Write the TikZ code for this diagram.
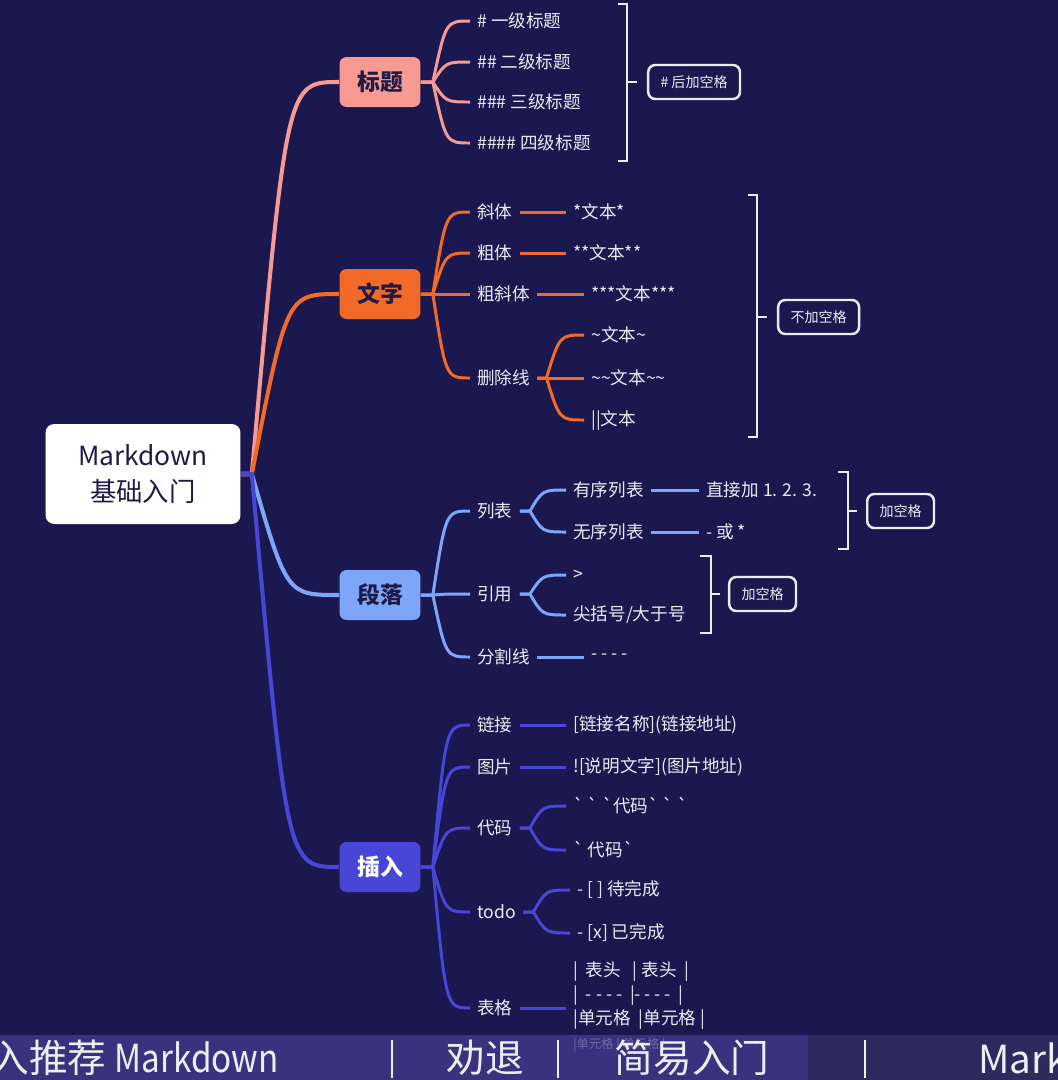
\documentclass[tikz,border=0pt]{standalone}
\usepackage{fontspec}
\setmainfont{Noto Sans CJK SC}[Ligatures=TeXOff]
\usepackage{tikz}
\usetikzlibrary{positioning, calc}
\definecolor{mybg}{RGB}{27,24,80}
\definecolor{mysalmon}{RGB}{247,154,146}
\definecolor{myorange}{RGB}{242,106,40}
\definecolor{myblue}{RGB}{125,166,248}
\definecolor{myindigo}{RGB}{72,70,214}
\definecolor{mytext}{RGB}{236,236,245}
\definecolor{mydark}{RGB}{30,28,70}
\definecolor{myband}{RGB}{68,61,143}
\definecolor{mybandr}{RGB}{51,49,99}
\tikzset{
  rootbox/.style={rectangle, fill=white, rounded corners=5pt,
    minimum width=3.9cm, minimum height=2cm, align=center,
    text=mydark, font=\fontsize{15}{20}\selectfont},
  topic/.style={rectangle, rounded corners=4pt, minimum width=1.62cm,
    minimum height=1cm, text=mydark, font=\fontsize{13}{15}\selectfont\bfseries},
  leaf/.style={anchor=west, inner xsep=4pt, inner ysep=2pt,
    text=mytext, font=\fontsize{10}{12}\selectfont},
  note/.style={rectangle, draw=mytext, line width=1.4pt, rounded corners=4pt,
    inner xsep=7pt, minimum height=0.68cm, text=mytext,
    font=\fontsize{8}{10}\selectfont},
  bracket/.style={draw=mytext!85, line width=1.2pt},
  branch/.style={line width=2.3pt},
  sub/.style={line width=1.7pt},
  mm/.style={to path={let \p1=(\tikztostart), \p2=(\tikztotarget) in
    .. controls ({\x1+#1*(\x2-\x1)},\y2) .. (\tikztotarget) \tikztonodes}},
  mm/.default=0.35
}

\begin{document}
\begin{tikzpicture}[x=0.02cm, y=-0.02cm]
  \useasboundingbox (0,0) rectangle (1058,1080);
  \fill[mybg] (0,0) rectangle (1058,1080);

  % Root
  \node[rootbox] (root) at (143,474) {Markdown\\基础入门};

  % 标题
  \node[topic, fill=mysalmon] (h) at (380,82) {标题};
  \node[leaf] (h1) at (470,21) {\# 一级标题};
  \node[leaf] (h2) at (470,62) {\#\# 二级标题};
  \node[leaf] (h3) at (470,102) {\#\#\# 三级标题};
  \node[leaf] (h4) at (470,143) {\#\#\#\# 四级标题};
  \foreach \c in {h1,h2,h3,h4}
    \draw[sub, mysalmon] (h.east) -- ++(12,0) to[mm] (\c.west);
  \draw[bracket] (618,4) -- (627,4) -- (627,161) -- (618,161);
  \coordinate (hb) at (627,82);
  \node[note, right=0.4cm of hb] (hn) {\# 后加空格};
  \draw[bracket] (hb) -- ++(10,0);

  % 文字
  \node[topic, fill=myorange] (t) at (380,294) {文字};
  \node[leaf] (t1) at (470,212) {斜体};
  \node[leaf] (t2) at (470,253) {粗体};
  \node[leaf] (t3) at (470,294) {粗斜体};
  \node[leaf] (t4) at (470,378) {删除线};
  \node[leaf] (t1v) at (566,212) {*文本*};
  \node[leaf] (t2v) at (566,253) {**文本**};
  \node[leaf] (t3v) at (584,294) {***文本***};
  \node[leaf] (t4a) at (584,335) {\textasciitilde 文本\textasciitilde};
  \node[leaf] (t4b) at (584,378) {\textasciitilde\textasciitilde 文本\textasciitilde\textasciitilde};
  \node[leaf] (t4c) at (584,420) {||文本};
  \foreach \c in {t1,t2,t3,t4}
    \draw[sub, myorange] (t.east) -- ++(12,0) to[mm] (\c.west);
  \draw[sub, myorange] (t1) -- (t1v);
  \draw[sub, myorange] (t2) -- (t2v);
  \draw[sub, myorange] (t3) -- (t3v);
  \foreach \c in {t4a,t4b,t4c}
    \draw[sub, myorange] (t4.east) -- ++(9,0) to[mm] (\c.west);
  \draw[bracket] (748,195) -- (757,195) -- (757,437) -- (748,437);
  \coordinate (tb) at (757,317);
  \node[note, right=0.4cm of tb] (tn) {不加空格};
  \draw[bracket] (tb) -- ++(10,0);

  % 段落
  \node[topic, fill=myblue] (p) at (380,595) {段落};
  \node[leaf] (p1) at (470,511) {列表};
  \node[leaf] (p2) at (470,594) {引用};
  \node[leaf] (p3) at (470,657) {分割线};
  \node[leaf] (p11) at (566,490) {有序列表};
  \node[leaf] (p12) at (566,532) {无序列表};
  \node[leaf] (p11v) at (699,490) {直接加 1. 2. 3.};
  \node[leaf] (p12v) at (699,532) {- 或 *};
  \node[leaf] (p21) at (566,575) {>};
  \node[leaf] (p22) at (566,615) {尖括号/大于号};
  \node[leaf] (p3v) at (584,657) {- - - -};
  \foreach \c in {p1,p2,p3}
    \draw[sub, myblue] (p.east) -- ++(12,0) to[mm] (\c.west);
  \foreach \c in {p11,p12}
    \draw[sub, myblue] (p1.east) -- ++(10,0) to[mm] (\c.west);
  \foreach \c in {p21,p22}
    \draw[sub, myblue] (p2.east) -- ++(10,0) to[mm] (\c.west);
  \draw[sub, myblue] (p11) -- (p11v);
  \draw[sub, myblue] (p12) -- (p12v);
  \draw[sub, myblue] (p3) -- (p3v);
  \draw[bracket] (838,472) -- (848,472) -- (848,549) -- (838,549);
  \coordinate (pb1) at (848,511);
  \node[note, right=0.36cm of pb1] (pn1) {加空格};
  \draw[bracket] (pb1) -- ++(9,0);
  \draw[bracket] (700,556) -- (711,556) -- (711,633) -- (700,633);
  \coordinate (pb2) at (711,594);
  \node[note, right=0.34cm of pb2] (pn2) {加空格};
  \draw[bracket] (pb2) -- ++(9,0);

  % 插入
  \node[topic, fill=myindigo, text=white] (i) at (380,867) {插入};
  \node[leaf] (i1) at (470,725) {链接};
  \node[leaf] (i2) at (470,767) {图片};
  \node[leaf] (i3) at (470,828) {代码};
  \node[leaf] (i4) at (470,912) {todo};
  \node[leaf] (i5) at (470,1008) {表格};
  \node[leaf] (i1v) at (566,725) {[链接名称](链接地址)};
  \node[leaf] (i2v) at (566,767) {![说明文字](图片地址)};
  \node[leaf] (i31) at (566,806) {` ` `代码` ` `};
  \node[leaf] (i32) at (566,850) {` 代码`};
  \node[leaf] (i41) at (570,890) {- [ ] 待完成};
  \node[leaf] (i42) at (570,933) {- [x] 已完成};
  \node[leaf, align=left, font=\fontsize{10}{13.6}\selectfont] (i5v) at (566,1007)
    {|\ \ 表头\ \ \ |\ 表头\ \ |\\|\ \ - - - -\ \ |- - - -\ \ |\\|单元格\ \ |单元格\ |\\
     {\fontsize{7}{9}\selectfont|单元格\ |\ 单元格\ |}};
  \foreach \c in {i1,i2,i3,i4,i5}
    \draw[sub, myindigo] (i.east) -- ++(12,0) to[mm] (\c.west);
  \foreach \c in {i31,i32}
    \draw[sub, myindigo] (i3.east) -- ++(10,0) to[mm] (\c.west);
  \foreach \c in {i41,i42}
    \draw[sub, myindigo] (i4.east) -- ++(10,0) to[mm] (\c.west);
  \draw[sub, myindigo] (i1) -- (i1v);
  \draw[sub, myindigo] (i2) -- (i2v);
  \draw[sub, myindigo] (i5) -- (i5.east -| i5v.west);

  % Root branches
  \draw[branch, mysalmon] (root.east) -- ++(11,0) to[mm=0.4] (h.west);
  \draw[branch, myorange] (root.east) -- ++(11,0) to[mm=0.4] (t.west);
  \draw[branch, myblue] (root.east) -- ++(11,0) to[mm=0.4] (p.west);
  \draw[branch, myindigo] (root.east) -- ++(11,0) to[mm=0.4] (i.west);

  % Subtitle band
  \begin{scope}
    \clip (0,1035) rectangle (1058,1080);
    \fill[myband, fill opacity=0.75] (0,1035) rectangle (808,1080);
    \fill[mybandr, fill opacity=0.75] (808,1035) rectangle (1058,1080);
    \begin{scope}[every node/.style={inner sep=0pt, text=mytext!90,
        font=\fontsize{22}{24}\selectfont}]
      \node[anchor=west] (s1) at (-10,1058) {入推荐 {\addfontfeature{FakeStretch=0.86}Markdown}};
      \node (s2) at (485,1058) {劝退};
      \node (s3) at (692,1058) {简易入门};
      \node[anchor=west] (s4) at (978,1058) {Mark};
    \end{scope}
    \foreach \x in {392,558,865}
      \draw[mytext!80, line width=0.8pt] (\x,1040) -- (\x,1078);
  \end{scope}
\end{tikzpicture}
\end{document}
